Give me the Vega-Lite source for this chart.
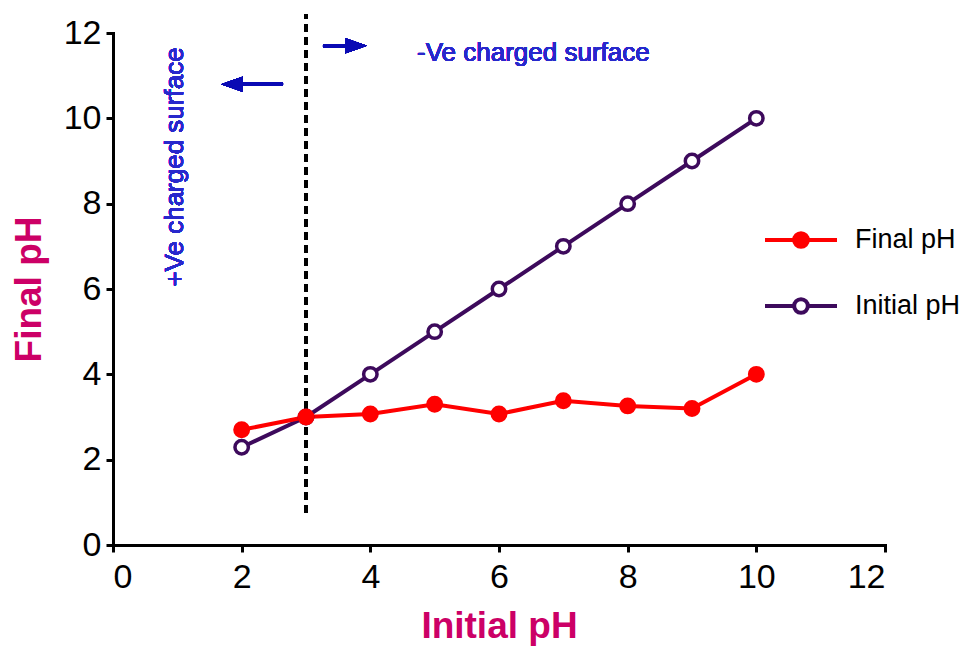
{
  "$schema": "https://vega.github.io/schema/vega-lite/v6.json",
  "width": 772,
  "height": 512,
  "autosize": "none",
  "padding": {"left": 113, "top": 33, "right": 86, "bottom": 107},
  "background": "white",
  "config": {
    "view": {"stroke": null},
    "font": "Liberation Sans"
  },
  "data": {
    "values": [
      {"ph": 2, "series": "Initial pH", "value": 2.29},
      {"ph": 3, "series": "Initial pH", "value": 3.0},
      {"ph": 4, "series": "Initial pH", "value": 4.0},
      {"ph": 5, "series": "Initial pH", "value": 5.0},
      {"ph": 6, "series": "Initial pH", "value": 6.0},
      {"ph": 7, "series": "Initial pH", "value": 7.0},
      {"ph": 8, "series": "Initial pH", "value": 8.0},
      {"ph": 9, "series": "Initial pH", "value": 9.0},
      {"ph": 10, "series": "Initial pH", "value": 10.0},
      {"ph": 2, "series": "Final pH", "value": 2.7},
      {"ph": 3, "series": "Final pH", "value": 3.0},
      {"ph": 4, "series": "Final pH", "value": 3.07},
      {"ph": 5, "series": "Final pH", "value": 3.3},
      {"ph": 6, "series": "Final pH", "value": 3.07},
      {"ph": 7, "series": "Final pH", "value": 3.38},
      {"ph": 8, "series": "Final pH", "value": 3.26},
      {"ph": 9, "series": "Final pH", "value": 3.2},
      {"ph": 10, "series": "Final pH", "value": 4.0}
    ]
  },
  "encoding": {
    "x": {
      "field": "ph",
      "type": "quantitative",
      "title": "Initial pH",
      "scale": {"domain": [0, 12], "nice": false, "zero": false},
      "axis": {
        "values": [0, 2, 4, 6, 8, 10, 12],
        "grid": false,
        "domainColor": "black",
        "domainWidth": 3,
        "domainCap": "square",
        "tickColor": "black",
        "tickWidth": 3,
        "tickSize": 7,
        "labelFont": "Liberation Sans",
        "labelFontSize": 34,
        "labelColor": "black",
        "labelPadding": 8,
        "titleFont": "Liberation Sans",
        "titleFontSize": 37,
        "titleFontWeight": "bold",
        "titleColor": "#cc0066",
        "titlePadding": 14
      }
    },
    "y": {
      "field": "value",
      "type": "quantitative",
      "title": "Final pH",
      "scale": {"domain": [0, 12], "nice": false, "zero": false},
      "axis": {
        "values": [0, 2, 4, 6, 8, 10, 12],
        "grid": false,
        "domainColor": "black",
        "domainWidth": 3,
        "domainCap": "square",
        "tickColor": "black",
        "tickWidth": 3,
        "tickSize": 7,
        "labelFont": "Liberation Sans",
        "labelFontSize": 34,
        "labelColor": "black",
        "labelPadding": 5,
        "titleFont": "Liberation Sans",
        "titleFontSize": 37,
        "titleFontWeight": "bold",
        "titleColor": "#cc0066",
        "titlePadding": 15
      }
    }
  },
  "layer": [
    {
      "mark": {"type": "rule", "color": "black", "strokeWidth": 2.6, "strokeDash": [8, 5]},
      "encoding": {
        "x": {"datum": 3},
        "y": {"datum": 0.75},
        "y2": {"datum": 12.44}
      }
    },
    {
      "mark": {"type": "line", "strokeWidth": 4},
      "encoding": {
        "color": {
          "field": "series",
          "type": "nominal",
          "scale": {"domain": ["Final pH", "Initial pH"], "range": ["#ff0000", "#3d0a5c"]},
          "legend": {
            "title": null,
            "orient": "none",
            "legendX": 650,
            "legendY": 169,
            "symbolType": "M-1,0H-0.19M0.19,0H1M-0.19,0A0.19,0.19,0,1,0,0.19,0A0.19,0.19,0,1,0,-0.19,0Z",
            "symbolSize": 5184,
            "symbolStrokeWidth": 4,
            "labelFont": "Liberation Sans",
            "labelFontSize": 27,
            "labelColor": "black",
            "labelOffset": 16,
            "rowPadding": 13,
            "encode": {
              "symbols": {
                "update": {
                  "fill": {"signal": "datum.value === 'Final pH' ? '#ff0000' : '#ffffff'"},
                  "fillOpacity": {"value": 1}
                }
              }
            }
          }
        },
        "detail": {"field": "series"}
      }
    },
    {
      "mark": {"type": "point", "shape": "circle", "strokeWidth": 3.5, "opacity": 1},
      "encoding": {
        "stroke": {
          "field": "series",
          "type": "nominal",
          "scale": {"domain": ["Final pH", "Initial pH"], "range": ["#ff0000", "#3d0a5c"]},
          "legend": null
        },
        "fill": {
          "field": "series",
          "type": "nominal",
          "scale": {"domain": ["Final pH", "Initial pH"], "range": ["#ff0000", "#ffffff"]},
          "legend": null
        },
        "size": {"value": 180}
      }
    },
    {
      "mark": {"type": "rule", "color": "#0a0ab4", "strokeWidth": 3},
      "encoding": {
        "x": {"datum": 1.85},
        "x2": {"datum": 2.643},
        "y": {"datum": 10.8}
      }
    },
    {
      "mark": {"type": "point", "shape": "M-1,0L1,-0.7L1,0.7Z", "filled": true, "color": "#0a0ab4", "opacity": 1, "size": 484},
      "encoding": {
        "x": {"datum": 1.85},
        "y": {"datum": 10.8}
      }
    },
    {
      "mark": {"type": "rule", "color": "#0a0ab4", "strokeWidth": 3},
      "encoding": {
        "x": {"datum": 3.264},
        "x2": {"datum": 3.78},
        "y": {"datum": 11.7}
      }
    },
    {
      "mark": {"type": "point", "shape": "M1,0L-1,-0.7L-1,0.7Z", "filled": true, "color": "#0a0ab4", "opacity": 1, "size": 484},
      "encoding": {
        "x": {"datum": 3.777},
        "y": {"datum": 11.7}
      }
    },
    {
      "mark": {"type": "text", "text": "-Ve charged surface", "font": "Liberation Sans", "fontSize": 26, "fontWeight": "normal", "color": "#2828cc", "align": "left", "baseline": "middle"},
      "encoding": {
        "x": {"datum": 4.726},
        "y": {"datum": 11.53}
      }
    },
    {
      "mark": {"type": "text", "text": "+Ve charged surface", "font": "Liberation Sans", "fontSize": 26, "fontWeight": "normal", "color": "#2828cc", "align": "center", "baseline": "middle", "angle": 270},
      "encoding": {
        "x": {"datum": 0.964},
        "y": {"datum": 8.86}
      }
    }
  ]
}
